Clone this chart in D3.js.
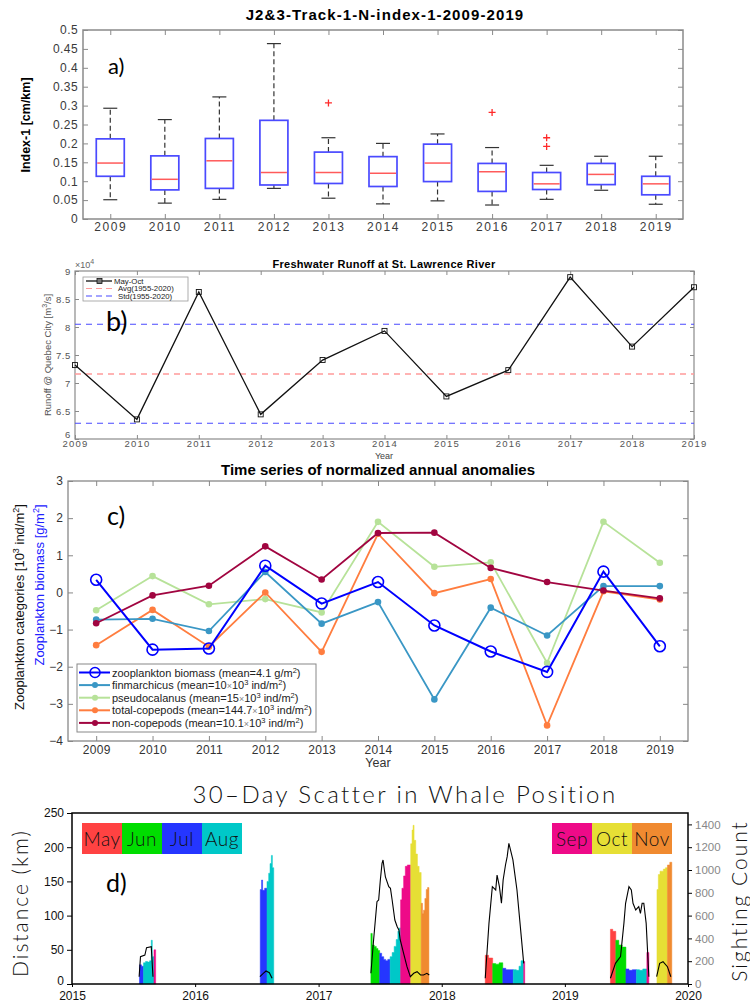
<!DOCTYPE html>
<html>
<head>
<meta charset="utf-8">
<script src="https://cdn.jsdelivr.net/npm/d3@7"></script>
<style>
  body { margin: 0; background: #fff; }
  text { font-family: "Liberation Sans", Arial, sans-serif; }
</style>
</head>
<body>
<div id="chart-area"></div>
<script>

// ---------- a) box plot data ----------
let boxYears = [2009, 2010, 2011, 2012, 2013, 2014, 2015, 2016, 2017, 2018, 2019];
let boxHigh   = [0.293, 0.263, 0.323, 0.464, 0.215, 0.200, 0.225, 0.189, 0.142, 0.166, 0.166];
let boxQ3     = [0.212, 0.167, 0.213, 0.261, 0.177, 0.165, 0.198, 0.147, 0.123, 0.147, 0.113];
let boxMedian = [0.148, 0.105, 0.154, 0.123, 0.123, 0.121, 0.148, 0.125, 0.093, 0.118, 0.093];
let boxQ1     = [0.113, 0.077, 0.081, 0.090, 0.094, 0.086, 0.099, 0.073, 0.078, 0.091, 0.064];
let boxLow    = [0.051, 0.042, 0.052, 0.081, 0.055, 0.040, 0.048, 0.037, 0.052, 0.076, 0.039];
let boxOutliers = [[2013, 0.307], [2016, 0.282], [2017, 0.215], [2017, 0.192]];

// ---------- b) runoff data ----------
let runoffYears  = [2009, 2010, 2011, 2012, 2013, 2014, 2015, 2016, 2017, 2018, 2019];
let runoffValues = [73200, 63500, 86250, 64400, 74100, 79300, 67600, 72300, 88900, 76500, 87100];
let runoffAvg = 71600;
let runoffStd = [80500, 62800];

// ---------- c) anomalies data ----------
let anomYears = [2009, 2010, 2011, 2012, 2013, 2014, 2015, 2016, 2017, 2018, 2019];
let zooBiomass    = [0.34, -1.54, -1.51, 0.72, -0.30, 0.28, -0.89, -1.59, -2.14, 0.56, -1.45];
let finmarchicus  = [-0.73, -0.71, -1.04, 0.55, -0.84, -0.26, -2.88, -0.41, -1.16, 0.17, 0.17];
let pseudocalanus = [-0.48, 0.44, -0.32, -0.18, -0.54, 1.90, 0.69, 0.81, -1.90, 1.90, 0.80];
let totalCopepods = [-1.42, -0.47, -1.46, 0.00, -1.60, 1.58, -0.02, 0.36, -3.58, 0.03, -0.19];
let nonCopepods   = [-0.83, -0.08, 0.18, 1.24, 0.35, 1.60, 1.61, 0.66, 0.28, 0.05, -0.16];

// ---------- d) whale scatter data ----------
// [date, distance km]; each value holds until the next date, null closes the season
let scatter2015 = [["2015-07-20", 28], ["2015-07-26", 26], ["2015-08-01", 31], ["2015-08-07", 33], ["2015-08-13", 32],
  ["2015-08-19", 34], ["2015-08-24", 64], ["2015-08-27", 40], ["2015-09-01", 50], ["2015-09-06", null]];
let scatter2016 = [["2016-07-12", 138], ["2016-07-16", 152], ["2016-07-19", 137], ["2016-07-25", 140], ["2016-08-01", 150],
  ["2016-08-06", 162], ["2016-08-10", 176], ["2016-08-14", 188], ["2016-08-17", 170], ["2016-08-21", null]];
let scatter2017 = [["2017-06-05", 74], ["2017-06-09", 57], ["2017-06-15", 55], ["2017-06-21", 52], ["2017-06-26", 49],
  ["2017-07-01", 45], ["2017-07-07", 40], ["2017-07-13", 36], ["2017-07-19", 34], ["2017-07-25", 36],
  ["2017-08-01", 40], ["2017-08-07", 46], ["2017-08-13", 55], ["2017-08-19", 65], ["2017-08-24", 77], ["2017-08-28", 82],
  ["2017-09-01", 123], ["2017-09-05", 140], ["2017-09-10", 158], ["2017-09-15", 172], ["2017-09-21", 174], ["2017-09-26", 174],
  ["2017-10-01", 205], ["2017-10-05", 225], ["2017-10-08", 232], ["2017-10-11", 210], ["2017-10-16", 190], ["2017-10-21", 172], ["2017-10-26", 163],
  ["2017-11-01", 118], ["2017-11-05", 103], ["2017-11-08", 108], ["2017-11-12", 125], ["2017-11-16", 138], ["2017-11-20", 141], ["2017-11-24", null]];
let scatter2018 = [["2018-05-10", 42], ["2018-05-20", 38], ["2018-06-01", 30], ["2018-06-10", 29], ["2018-06-20", 31],
  ["2018-07-01", 23], ["2018-07-10", 21], ["2018-07-20", 21], ["2018-08-01", 21], ["2018-08-10", 20], ["2018-08-18", 26],
  ["2018-08-24", 34], ["2018-09-01", 33], ["2018-09-04", null]];
let scatter2019a = [["2019-05-16", 80], ["2019-05-23", 77], ["2019-06-01", 64], ["2019-06-10", 57], ["2019-06-20", 54],
  ["2019-07-01", 22], ["2019-07-10", 20], ["2019-07-20", 21], ["2019-08-01", 21], ["2019-08-10", 20], ["2019-08-20", 22],
  ["2019-09-01", 46], ["2019-09-07", null]];
let scatter2019b = [["2019-10-01", 138], ["2019-10-05", 160], ["2019-10-10", 165], ["2019-10-20", 168], ["2019-10-26", 170],
  ["2019-11-01", 174], ["2019-11-08", 178], ["2019-11-14", null]];

// [date, sighting count]
let count2015 = [["2015-07-19", 64], ["2015-07-23", 240], ["2015-08-05", 254], ["2015-08-10", 319], ["2015-08-24", 327], ["2015-08-29", 64]];
let count2016 = [["2016-07-11", 64], ["2016-07-21", 94], ["2016-07-29", 114], ["2016-08-08", 99], ["2016-08-16", 50]];
let count2017 = [["2017-06-05", 94], ["2017-06-13", 386], ["2017-06-23", 722], ["2017-06-28", 737], ["2017-07-03", 912],
  ["2017-07-08", 1058], ["2017-07-11", 1088], ["2017-07-15", 1000], ["2017-07-18", 940], ["2017-07-28", 854],
  ["2017-08-02", 839], ["2017-08-07", 737], ["2017-08-15", 561], ["2017-08-22", 503], ["2017-08-27", 474],
  ["2017-08-31", 386], ["2017-09-10", 269], ["2017-09-20", 152], ["2017-09-30", 64], ["2017-10-10", 94],
  ["2017-10-20", 108], ["2017-10-30", 79], ["2017-11-08", 79], ["2017-11-18", 94], ["2017-11-25", 79]];
let count2018 = [["2018-05-10", 50], ["2018-05-21", 532], ["2018-05-31", 854], ["2018-06-10", 825], ["2018-06-14", 956],
  ["2018-06-21", 854], ["2018-06-27", 708], ["2018-07-02", 912], ["2018-07-09", 1044], ["2018-07-14", 1117],
  ["2018-07-19", 1234], ["2018-07-24", 1175], ["2018-07-31", 1088], ["2018-08-12", 825], ["2018-08-22", 503], ["2018-09-01", 181]];
let count2019a = [["2019-05-16", 50], ["2019-05-31", 181], ["2019-06-15", 240], ["2019-06-25", 532], ["2019-06-30", 708],
  ["2019-07-10", 854], ["2019-07-17", 825], ["2019-07-22", 708], ["2019-07-30", 650], ["2019-08-08", 679],
  ["2019-08-13", 620], ["2019-08-18", 708], ["2019-08-23", 708], ["2019-08-30", 532], ["2019-09-07", 64]];
let count2019b = [["2019-09-30", 64], ["2019-10-09", 181], ["2019-10-19", 196], ["2019-11-01", 152], ["2019-11-11", 64]];

let monthLeft = ["May", "Jun", "Jul", "Aug"];
let monthRight = ["Sep", "Oct", "Nov"];
let monthColor = {4: "#ff4242", 5: "#00dd00", 6: "#2536ff", 7: "#00c8c8", 8: "#ee0a88", 9: "#e6df35", 10: "#f08a30"};


let width = 750,
    height = 1002;

let svg = d3.select("#chart-area").append("svg")
    .attr("width", width)
    .attr("height", height);

// matlab style frame with inward ticks on all four sides
function frame(g, x, y, xt, yt, o) {
  let [xl, xr] = x.range(), [yb, yt0] = y.range();
  let bottom = g.append("g").attr("transform", `translate(0,${yb})`)
      .call(d3.axisBottom(x).tickValues(xt).tickFormat(o.xfmt).tickSizeInner(-o.tick).tickSizeOuter(0).tickPadding(o.xpad));
  g.append("g").attr("transform", `translate(0,${yt0})`)
      .call(d3.axisTop(x).tickValues(xt).tickFormat("").tickSizeInner(-o.tick).tickSizeOuter(0));
  let left = g.append("g").attr("transform", `translate(${xl},0)`)
      .call(d3.axisLeft(y).tickValues(yt).tickFormat(o.yfmt).tickSizeInner(-o.tick).tickSizeOuter(0).tickPadding(o.ypad));
  g.append("g").attr("transform", `translate(${xr},0)`)
      .call(d3.axisRight(y).tickValues(yt).tickFormat("").tickSizeInner(-o.tick).tickSizeOuter(0));
  g.selectAll(".domain").remove();
  g.selectAll(".tick line").attr("stroke", o.color).attr("stroke-width", 1);
  g.append("rect").attr("x", xl).attr("y", yt0).attr("width", xr - xl).attr("height", yb - yt0)
      .attr("fill", "none").attr("stroke", o.color).attr("stroke-width", o.sw || 1.2);
  g.selectAll(".tick text").attr("fill", o.text).style("font-size", o.fs + "px")
      .style("font-family", '"Liberation Sans", Arial, sans-serif');
  bottom.selectAll(".tick text").style("letter-spacing", (o.xls || 0) + "px");
  left.selectAll(".tick text").style("letter-spacing", (o.yls || 0) + "px");
  return left;
}

function panelTag(txt, x, y, size) {
  svg.append("text").attr("x", x).attr("y", y).text(txt)
    .style("font-family", "Lato, 'Open Sans', sans-serif").style("font-size", size + "px").attr("fill", "#000");
}

// ================= a) =================
let ga = svg.append("g");
let xA = d3.scaleLinear().domain([2008.5, 2019.5]).range([83, 683]);
let yA = d3.scaleLinear().domain([0, 0.5]).range([219, 30]);

frame(ga, xA, yA, boxYears, d3.range(0, 0.501, 0.05), {
  xfmt: d3.format("d"), yfmt: d => String(+d.toFixed(2)), tick: 5, xpad: 3, ypad: 5,
  color: "#8a8a8a", text: "#3a3a3a", fs: 12, xls: 1.6, yls: 0.4, sw: 1.5
});

ga.append("text").attr("x", 385).attr("y", 20).attr("text-anchor", "middle")
  .style("font-size", "15px").style("font-weight", "bold").style("letter-spacing", "1.1px")
  .text("J2&3-Track-1-N-index-1-2009-2019");
ga.append("text").attr("transform", "translate(30,125) rotate(-90)").attr("text-anchor", "middle")
  .style("font-size", "12.5px").style("font-weight", "bold").text("Index-1 [cm/km]");

let boxes = ga.selectAll(".box").data(boxYears).enter().append("g").attr("class", "box");
// whiskers
boxes.append("line").attr("x1", d => xA(d)).attr("x2", d => xA(d))
  .attr("y1", (d, i) => yA(boxQ3[i])).attr("y2", (d, i) => yA(boxHigh[i]))
  .attr("stroke", "#333").attr("stroke-dasharray", "5,3").attr("stroke-width", 1.2);
boxes.append("line").attr("x1", d => xA(d)).attr("x2", d => xA(d))
  .attr("y1", (d, i) => yA(boxQ1[i])).attr("y2", (d, i) => yA(boxLow[i]))
  .attr("stroke", "#333").attr("stroke-dasharray", "5,3").attr("stroke-width", 1.2);
boxes.append("line").attr("x1", d => xA(d) - 7).attr("x2", d => xA(d) + 7)
  .attr("y1", (d, i) => yA(boxHigh[i])).attr("y2", (d, i) => yA(boxHigh[i]))
  .attr("stroke", "#333").attr("stroke-width", 1.2);
boxes.append("line").attr("x1", d => xA(d) - 7).attr("x2", d => xA(d) + 7)
  .attr("y1", (d, i) => yA(boxLow[i])).attr("y2", (d, i) => yA(boxLow[i]))
  .attr("stroke", "#333").attr("stroke-width", 1.2);
boxes.append("rect").attr("x", d => xA(d) - 14).attr("width", 28)
  .attr("y", (d, i) => yA(boxQ3[i])).attr("height", (d, i) => yA(boxQ1[i]) - yA(boxQ3[i]))
  .attr("fill", "#fff").attr("stroke", "#4a4aff").attr("stroke-width", 1.7);
boxes.append("line").attr("x1", d => xA(d) - 13).attr("x2", d => xA(d) + 13)
  .attr("y1", (d, i) => yA(boxMedian[i])).attr("y2", (d, i) => yA(boxMedian[i]))
  .attr("stroke", "#ff5a5a").attr("stroke-width", 1.5);

ga.selectAll(".outlier").data(boxOutliers).enter().append("path").attr("class", "outlier")
  .attr("d", d => `M${xA(d[0]) - 3.5},${yA(d[1])}h7M${xA(d[0])},${yA(d[1]) - 3.5}v7`)
  .attr("stroke", "#ff2a2a").attr("stroke-width", 1.3);

panelTag("a)", 108, 74, 22);

// ================= b) =================
let gb = svg.append("g");
let xB = d3.scaleLinear().domain([2009, 2019]).range([75, 694]);
let yB = d3.scaleLinear().domain([60000, 90000]).range([439, 271]);

let leftB = frame(gb, xB, yB, runoffYears, d3.range(60000, 90001, 5000), {
  xfmt: d3.format("d"), yfmt: d => String(d / 10000), tick: 4, xpad: 1, ypad: 4,
  color: "#8a8a8a", text: "#555", fs: 9.5, xls: 1.2, yls: 0.6, sw: 1.2
});
// lift the lowest y label a little so it clears the year labels
leftB.selectAll(".tick text").filter(d => d === 60000).attr("dy", "-0.2em");

gb.append("text").attr("x", 384).attr("y", 268).attr("text-anchor", "middle")
  .style("font-size", "11px").style("font-weight", "bold").style("letter-spacing", "0.3px")
  .text("Freshwater Runoff at St. Lawrence River");
let xten = gb.append("text").attr("x", 75).attr("y", 268).attr("fill", "#666").style("font-size", "9px");
xten.append("tspan").text("\u00d710");
xten.append("tspan").attr("dy", -4).style("font-size", "7px").text("4");
gb.append("text").attr("x", 384).attr("y", 458.5).attr("text-anchor", "middle").attr("fill", "#444")
  .style("font-size", "9px").text("Year");
let ylabB = gb.append("text").attr("transform", "translate(51,355) rotate(-90)").attr("text-anchor", "middle")
  .attr("fill", "#555").style("font-size", "9.5px");
ylabB.append("tspan").text("Runoff @ Quebec City [m");
ylabB.append("tspan").attr("dy", -4).style("font-size", "7px").text("3");
ylabB.append("tspan").attr("dy", 4).text("/s]");

[runoffStd[0], runoffStd[1]].forEach(v => {
  gb.append("line").attr("x1", xB(2009)).attr("x2", xB(2019)).attr("y1", yB(v)).attr("y2", yB(v))
    .attr("stroke", "#4a4aff").attr("stroke-width", 1.1).attr("stroke-dasharray", "6,5");
});
gb.append("line").attr("x1", xB(2009)).attr("x2", xB(2019)).attr("y1", yB(runoffAvg)).attr("y2", yB(runoffAvg))
  .attr("stroke", "#ff9a9a").attr("stroke-width", 1.6).attr("stroke-dasharray", "6,5");

let runLine = d3.line().x((d, i) => xB(runoffYears[i])).y(d => yB(d));
gb.append("path").datum(runoffValues).attr("d", runLine).attr("fill", "none")
  .attr("stroke", "#111").attr("stroke-width", 1.3);
gb.selectAll(".sq").data(runoffValues).enter().append("rect").attr("class", "sq")
  .attr("x", (d, i) => xB(runoffYears[i]) - 2.5).attr("y", d => yB(d) - 2.5)
  .attr("width", 5).attr("height", 5).attr("fill", "none").attr("stroke", "#111").attr("stroke-width", 0.9);

// legend b
gb.append("rect").attr("x", 83).attr("y", 277).attr("width", 105).attr("height", 24)
  .attr("fill", "#fff").attr("stroke", "#999").attr("stroke-width", 0.8);
let legB = [["May-Oct", "#111", null, 281], ["Avg(1955-2020)", "#ff9a9a", "6,4", 288.5], ["Std(1955-2020)", "#4a4aff", "6,4", 296]];
legB.forEach(function(e, i) {
  gb.append("line").attr("x1", 86).attr("x2", 112).attr("y1", e[3]).attr("y2", e[3])
    .attr("stroke", e[1]).attr("stroke-width", i == 0 ? 1.3 : 1.1).attr("stroke-dasharray", e[2]);
  if (i == 0) gb.append("rect").attr("x", 97).attr("y", e[3] - 2.5).attr("width", 5).attr("height", 5)
    .attr("fill", "#777").attr("stroke", "#111").attr("stroke-width", 0.8);
  gb.append("text").attr("x", i == 0 ? 114 : 118).attr("y", e[3] + 2.8).style("font-size", "7.8px")
    .attr("fill", "#222").text(e[0]);
});

panelTag("b)", 106, 331, 27);

// ================= c) =================
let gc = svg.append("g");
let xC = d3.scaleLinear().domain([2008.5, 2019.5]).range([68, 688]);
let yC = d3.scaleLinear().domain([-4, 3]).range([741, 481]);

frame(gc, xC, yC, anomYears, d3.range(-4, 3.1, 1), {
  xfmt: d3.format("d"), yfmt: d3.format("d"), tick: 5, xpad: 4, ypad: 5,
  color: "#888", text: "#333", fs: 12, xls: 0.3, yls: 0, sw: 1.3
});

gc.append("text").attr("x", 378).attr("y", 474.5).attr("text-anchor", "middle")
  .style("font-size", "15px").style("font-weight", "bold").text("Time series of normalized annual anomalies");
gc.append("text").attr("x", 378).attr("y", 767).attr("text-anchor", "middle").attr("fill", "#333")
  .style("font-size", "12.5px").text("Year");

let ylc1 = gc.append("text").attr("transform", "translate(24,607) rotate(-90)").attr("text-anchor", "middle")
  .style("font-size", "13px").attr("fill", "#111");
ylc1.append("tspan").text("Zooplankton categories [10");
ylc1.append("tspan").attr("dy", -5).style("font-size", "9px").text("3");
ylc1.append("tspan").attr("dy", 5).text(" ind/m");
ylc1.append("tspan").attr("dy", -5).style("font-size", "9px").text("2");
ylc1.append("tspan").attr("dy", 5).text("]");
let ylc2 = gc.append("text").attr("transform", "translate(44,585) rotate(-90)").attr("text-anchor", "middle")
  .style("font-size", "13px").attr("fill", "#2020ff");
ylc2.append("tspan").text("Zooplankton biomass [g/m");
ylc2.append("tspan").attr("dy", -5).style("font-size", "9px").text("2");
ylc2.append("tspan").attr("dy", 5).text("]");

let anomSeries = [
  {name: "pseudocalanus", vals: pseudocalanus, color: "#b7e299", w: 1.8},
  {name: "total-copepods", vals: totalCopepods, color: "#ff7d3f", w: 1.8},
  {name: "finmarchicus", vals: finmarchicus, color: "#3a97c5", w: 1.8},
  {name: "non-copepods", vals: nonCopepods, color: "#a10540", w: 1.8},
];
let anomLine = d3.line().x((d, i) => xC(anomYears[i])).y(d => yC(d));
anomSeries.forEach(function(s) {
  gc.append("path").datum(s.vals).attr("d", anomLine).attr("fill", "none")
    .attr("stroke", s.color).attr("stroke-width", s.w);
  gc.selectAll(null).data(s.vals).enter().append("circle")
    .attr("cx", (d, i) => xC(anomYears[i])).attr("cy", d => yC(d)).attr("r", 3.3).attr("fill", s.color);
});
gc.append("path").datum(zooBiomass).attr("d", anomLine).attr("fill", "none")
  .attr("stroke", "#0000ff").attr("stroke-width", 2);
gc.selectAll(".zb").data(zooBiomass).enter().append("circle").attr("class", "zb")
  .attr("cx", (d, i) => xC(anomYears[i])).attr("cy", d => yC(d)).attr("r", 5.5)
  .attr("fill", "none").attr("stroke", "#0000ff").attr("stroke-width", 1.6);

// legend c
gc.append("rect").attr("x", 77).attr("y", 664).attr("width", 239).attr("height", 68)
  .attr("fill", "#fff").attr("stroke", "#888").attr("stroke-width", 1);
let legC = [
  {color: "#0000ff", open: true, parts: [["zooplankton biomass (mean=4.1 g/m"], ["2", "sup"], [")"]]},
  {color: "#3a97c5", parts: [["finmarchicus (mean=10"], ["\u00d7", "x"], ["10"], ["3", "sup"], [" ind/m"], ["2", "sup"], [")"]]},
  {color: "#b7e299", parts: [["pseudocalanus (mean=15"], ["\u00d7", "x"], ["10"], ["3", "sup"], [" ind/m"], ["2", "sup"], [")"]]},
  {color: "#ff7d3f", parts: [["total-copepods (mean=144.7"], ["\u00d7", "x"], ["10"], ["3", "sup"], [" ind/m"], ["2", "sup"], [")"]]},
  {color: "#a10540", parts: [["non-copepods (mean=10.1"], ["\u00d7", "x"], ["10"], ["3", "sup"], [" ind/m"], ["2", "sup"], [")"]]}
];
legC.forEach(function(e, i) {
  let yy = 672.5 + i * 12.6;
  gc.append("line").attr("x1", 79).attr("x2", 110).attr("y1", yy).attr("y2", yy)
    .attr("stroke", e.color).attr("stroke-width", 2);
  if (e.open) gc.append("circle").attr("cx", 95).attr("cy", yy).attr("r", 5)
    .attr("fill", "none").attr("stroke", e.color).attr("stroke-width", 1.5);
  else gc.append("circle").attr("cx", 95).attr("cy", yy).attr("r", 3).attr("fill", e.color);
  let t = gc.append("text").attr("x", 112).attr("y", yy + 4).style("font-size", "11px").attr("fill", "#222");
  let shifted = false;
  e.parts.forEach(function(p) {
    let sp = t.append("tspan").text(p[0]);
    if (p[1] == "sup") { sp.attr("dy", -4).style("font-size", "7.5px"); shifted = true; }
    else {
      if (shifted) { sp.attr("dy", 4); shifted = false; }
      if (p[1] == "x") sp.attr("fill", "#888").style("font-size", "9px");
    }
  });
});

panelTag("c)", 107, 525, 25);

// ================= d) =================
let gd = svg.append("g");
let parseDay = d3.timeParse("%Y-%m-%d");
let xD = d3.scaleTime().domain([new Date(2015, 0, 1), new Date(2020, 0, 1)]).range([72, 688]);
let yD = d3.scaleLinear().domain([0, 250]).range([984, 813]);
let yCount = d3.scaleLinear().domain([0, 1500]).range([984, 813]);

// filled step areas, one piece per month so each gets its own colour
let stepArea = d3.area().curve(d3.curveStepAfter)
  .x(d => xD(d[0])).y0(yD(0)).y1(d => yD(d[1]));
let scatterSeasons = [scatter2015, scatter2016, scatter2017, scatter2018, scatter2019a, scatter2019b];
scatterSeasons.forEach(function(season) {
  let pts = season.map(p => [parseDay(p[0]), p[1]]);
  let pieces = [];
  pts.slice(0, -1).forEach(function(p, i) {
    let m = p[0].getMonth();
    if (!pieces.length || pieces[pieces.length - 1].m !== m) pieces.push({m: m, pts: []});
    pieces[pieces.length - 1].pts.push(p);
  });
  pieces.forEach(function(pc, k) {
    let last = pc.pts[pc.pts.length - 1];
    let endDate = k < pieces.length - 1 ? pieces[k + 1].pts[0][0] : pts[pts.length - 1][0];
    let dat = pc.pts.concat([[endDate, last[1]]]);
    gd.append("path").datum(dat).attr("d", stepArea)
      .attr("fill", monthColor[pc.m]).attr("stroke", monthColor[pc.m]).attr("stroke-width", 0.5);
  });
});

let countLine = d3.line().x(d => xD(parseDay(d[0]))).y(d => yCount(d[1]));
[count2015, count2016, count2017, count2018, count2019a, count2019b].forEach(function(c) {
  gd.append("path").datum(c).attr("d", countLine).attr("fill", "none")
    .attr("stroke", "#000").attr("stroke-width", 1.1);
});

// axes d
gd.append("g").attr("transform", "translate(0,984)")
  .call(d3.axisBottom(xD).ticks(d3.timeYear.every(1)).tickFormat(d3.timeFormat("%Y")).tickSizeInner(3).tickSizeOuter(0).tickPadding(4));
let leftD = gd.append("g").attr("transform", "translate(72,0)")
  .call(d3.axisLeft(yD).tickValues(d3.range(0, 251, 50)).tickSizeInner(5).tickSizeOuter(0).tickPadding(3));
gd.append("g").attr("class", "raxis").attr("transform", "translate(688,0)")
  .call(d3.axisRight(yCount).tickValues(d3.range(0, 1401, 200)).tickFormat(d3.format("d")).tickSizeInner(4).tickSizeOuter(0).tickPadding(3));
gd.selectAll(".domain").remove();
gd.selectAll(".tick line").attr("stroke", "#000");
gd.selectAll(".tick text").attr("fill", "#111").style("font-size", "12px")
  .style("font-family", '"Liberation Sans", Arial, sans-serif');
gd.selectAll(".raxis .tick text").attr("fill", "#888").style("font-size", "11.5px");
leftD.selectAll(".tick text").filter(d => d === 0).attr("dy", "0.05em");
gd.append("rect").attr("x", 72).attr("y", 813).attr("width", 616).attr("height", 171)
  .attr("fill", "none").attr("stroke", "#000").attr("stroke-width", 1.5);

gd.append("text").attr("x", 405).attr("y", 803).attr("text-anchor", "middle")
  .style("font-family", "Lato, sans-serif").style("font-weight", 300).style("font-size", "24px")
  .style("letter-spacing", "2.4px").attr("fill", "#111").text("30\u2013Day Scatter in Whale Position");
gd.append("text").attr("transform", "translate(28,903) rotate(-90)").attr("text-anchor", "middle")
  .style("font-family", "Lato, sans-serif").style("font-weight", 300).style("font-size", "21px")
  .style("letter-spacing", "2px").attr("fill", "#111").text("Distance  (km)");
gd.append("text").attr("transform", "translate(747,901) rotate(-90)").attr("text-anchor", "middle")
  .style("font-family", "Lato, sans-serif").style("font-weight", 300).style("font-size", "21px")
  .style("letter-spacing", "2px").attr("fill", "#111").text("Sighting  Count");

// month legends
function monthBoxes(names, x0, months) {
  names.forEach(function(m, i) {
    gd.append("rect").attr("x", x0 + i * 40).attr("y", 823).attr("width", 40).attr("height", 31)
      .attr("shape-rendering", "crispEdges").attr("fill", monthColor[months[i]]);
    gd.append("text").attr("x", x0 + i * 40 + 20).attr("y", 846).attr("text-anchor", "middle")
      .style("font-family", "Lato, sans-serif").style("font-weight", 300).style("font-size", "19px")
      .style("letter-spacing", "0.5px").attr("fill", "#111").text(m);
  });
}
monthBoxes(monthLeft, 82, [4, 5, 6, 7]);
monthBoxes(monthRight, 552, [8, 9, 10]);

panelTag("d)", 106, 892, 25);

</script>
</body>
</html>
